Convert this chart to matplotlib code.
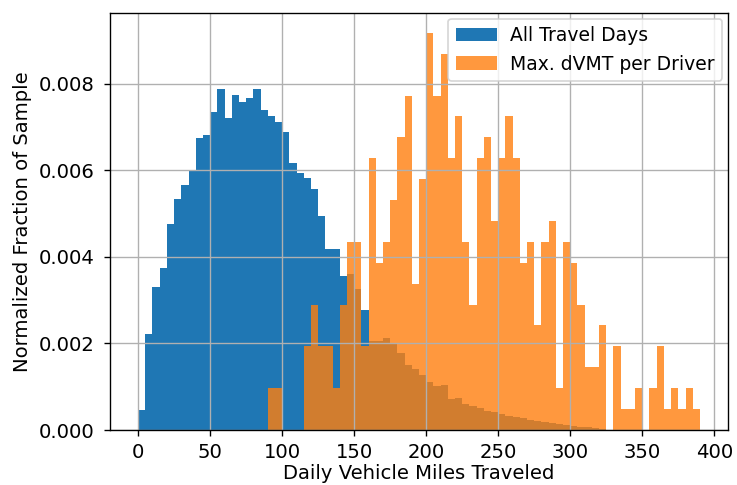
import numpy as np
import matplotlib
matplotlib.use("Agg")
import matplotlib.pyplot as plt

# ---- data ----
bin_width = 5
all_days_start = 0
# normalized density per 5-mile bin, 0..325 miles
all_days_density = [
    0.000465, 0.00223, 0.0033, 0.00374, 0.00477,
    0.00533, 0.00566, 0.00602, 0.00676, 0.00681,
    0.00735, 0.00787, 0.00721, 0.00774, 0.00757,
    0.00768, 0.00787, 0.0074, 0.00725, 0.00712,
    0.00689, 0.00617, 0.00594, 0.00582, 0.00557,
    0.00495, 0.00418, 0.00418, 0.00357, 0.0036,
    0.00326, 0.00277, 0.00205, 0.00205, 0.00213,
    0.00198, 0.00178, 0.00151, 0.0014, 0.00128,
    0.00112, 0.00101, 0.00105, 0.00071, 0.00073,
    0.0006, 0.00055, 0.0005, 0.00045, 0.00041,
    0.00037, 0.00033, 0.0003, 0.00027, 0.00024,
    0.00021, 0.00018, 0.00016, 0.00014, 0.00012,
    0.0001, 0.00008, 0.00006, 0.00005, 0.00003,
]
max_dvmt_start = 90
# number of drivers per 5-mile bin, 90..390 miles
max_dvmt_counts = [
    2, 2, 0, 0, 0, 4, 6, 4, 4, 2,
    6, 9, 9, 4, 13, 8, 9, 11, 14, 16,
    7, 12, 19, 16, 18, 13, 15, 9, 6, 13,
    14, 10, 13, 15, 13, 8, 9, 5, 9, 10,
    2, 9, 8, 6, 3, 3, 5, 0, 4, 1,
    1, 2, 0, 2, 4, 1, 2, 1, 2, 1,
]
series_labels = ["All Travel Days", "Max. dVMT per Driver"]
x_label = "Daily Vehicle Miles Traveled"
y_label = "Normalized Fraction of Sample"

plt.rcParams["font.size"] = 11.5
plt.rcParams["ytick.major.pad"] = 5.5
plt.rcParams["xtick.major.pad"] = 4.0

# ---- figure ----
dpi = 737 / 6.0
fig = plt.figure(figsize=(6.0, 485 / dpi), dpi=dpi)
ax = fig.add_axes([110 / 737, 55 / 485, (728 - 110) / 737, (472 - 55) / 485])

edges_a = all_days_start + bin_width * np.arange(len(all_days_density) + 1)
ax.hist(edges_a[:-1], bins=edges_a, weights=all_days_density,
        color="#1f77b4", label=series_labels[0])

edges_m = max_dvmt_start + bin_width * np.arange(len(max_dvmt_counts) + 1)
ax.hist(edges_m[:-1], bins=edges_m, weights=max_dvmt_counts, density=True,
        color="#ff7f0e", alpha=0.8, label=series_labels[1])

ax.grid(True)
ax.set_xlabel(x_label, labelpad=1.5)
ax.set_ylabel(y_label)
ax.legend(loc="upper right", fontsize=11, borderaxespad=0.3,
          handletextpad=0.7, handlelength=2.2)

fig.savefig("out.png", dpi=dpi)
